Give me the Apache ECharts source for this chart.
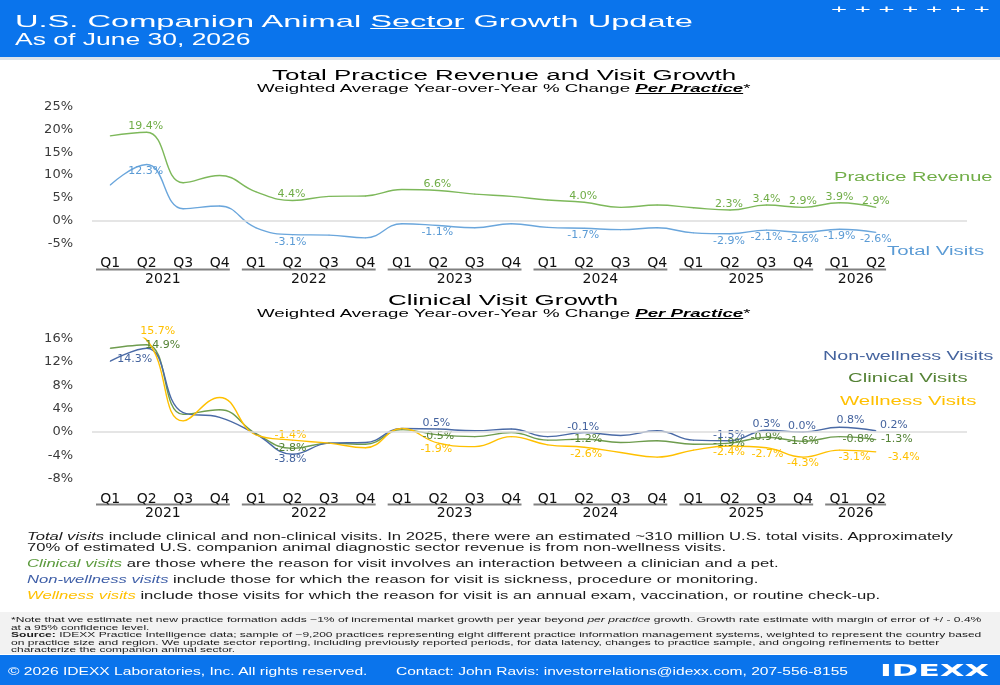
<!DOCTYPE html>
<html>
<head>
<meta charset="utf-8">
<script src="https://cdn.jsdelivr.net/npm/echarts@6/dist/echarts.min.js"></script>
<style>
  html, body { margin: 0; padding: 0; background: #fff; }
  #page { position: relative; width: 1000px; height: 685px; overflow: hidden; font-family: "Liberation Sans", Arial, sans-serif; }
  .band { position: absolute; left: 0; width: 1000px; z-index: 0; }
  #chart { position: absolute; left: 0; top: 0; width: 1000px; height: 685px; z-index: 1; }
  .t { position: absolute; white-space: nowrap; line-height: 1; z-index: 2; transform-origin: 0 50%; color: #1a1a1a; }
</style>
</head>
<body>
<div id="page">
  <div class="band" style="top:0;height:57px;background:#0a74ec"></div>
  <div class="band" style="top:57px;height:3px;background:#dde3ea"></div>
  <div class="band" style="top:612px;height:42px;background:#f2f2f2"></div>
  <div class="band" style="top:655px;height:30px;background:#0a74ec"></div>

  <div id="chart"></div>

  <!-- header -->
  <div class="t" data-x="15" data-y="21" data-w="677" style="font-size:17px;color:#fff">U.S. Companion Animal <u>Sector</u> Growth Update</div>
  <div class="t" data-x="15" data-y="39.5" data-w="235" style="font-size:16px;color:#fff">As of June 30, 2026</div>
  <div class="t" data-x="831" data-y="9.5" data-w="158" style="font-size:11px;color:#fff">+ + + + + + +</div>

  <!-- chart titles -->
  <div class="t" data-x="272" data-y="75" data-w="464" style="font-size:15.5px;color:#000">Total Practice Revenue and Visit Growth</div>
  <div class="t" data-x="257" data-y="88.5" data-w="494" style="font-size:10.5px;color:#000">Weighted Average Year-over-Year % Change <b><i><u>Per Practice</u></i></b>*</div>
  <div class="t" data-x="388" data-y="300" data-w="231" style="font-size:15.5px;color:#000">Clinical Visit Growth</div>
  <div class="t" data-x="257" data-y="313.5" data-w="494" style="font-size:10.5px;color:#000">Weighted Average Year-over-Year % Change <b><i><u>Per Practice</u></i></b>*</div>

  <!-- series names -->
  <div class="t" data-x="834" data-y="177" data-w="159" style="font-size:12.5px;color:#70ad47">Practice Revenue</div>
  <div class="t" data-x="887" data-y="251" data-w="98" style="font-size:12.5px;color:#5b9bd5">Total Visits</div>
  <div class="t" data-x="823" data-y="356" data-w="170" style="font-size:12.5px;color:#44639e">Non-wellness Visits</div>
  <div class="t" data-x="848" data-y="378" data-w="119" style="font-size:12.5px;color:#548235">Clinical Visits</div>
  <div class="t" data-x="840" data-y="401" data-w="137" style="font-size:12.5px;color:#ffc000">Wellness Visits</div>

  <!-- definitions -->
  <div class="t" data-x="27" data-y="536.5" data-w="926" style="font-size:11px"><i>Total visits</i> include clinical and non-clinical visits. In 2025, there were an estimated ~310 million U.S. total visits. Approximately</div>
  <div class="t" data-x="27" data-y="547.5" data-w="699" style="font-size:11px">70% of estimated U.S. companion animal diagnostic sector revenue is from non-wellness visits.</div>
  <div class="t" data-x="27" data-y="563" data-w="752" style="font-size:11px"><i style="color:#5b9a3c">Clinical visits</i> are those where the reason for visit involves an interaction between a clinician and a pet.</div>
  <div class="t" data-x="27" data-y="579" data-w="732" style="font-size:11px"><i style="color:#3f5fa8">Non-wellness visits</i> include those for which the reason for visit is sickness, procedure or monitoring.</div>
  <div class="t" data-x="27" data-y="595" data-w="853" style="font-size:11px"><i style="color:#ffc000">Wellness visits</i> include those visits for which the reason for visit is an annual exam, vaccination, or routine check-up.</div>

  <!-- notes -->
  <div class="t" data-x="11" data-y="620" data-w="970" style="font-size:7.5px">*Note that we estimate net new practice formation adds ~1% of incremental market growth per year beyond <i>per practice</i> growth. Growth rate estimate with margin of error of +/ - 0.4%</div>
  <div class="t" data-x="11" data-y="627.5" data-w="139" style="font-size:7.5px">at a 95% confidence level.</div>
  <div class="t" data-x="11" data-y="635" data-w="971" style="font-size:7.5px"><b>Source:</b> IDEXX Practice Intelligence data; sample of ~9,200 practices representing eight different practice information management systems, weighted to represent the country based</div>
  <div class="t" data-x="11" data-y="642.5" data-w="928" style="font-size:7.5px">on practice size and region. We update sector reporting, including previously reported periods, for data latency, changes to practice sample, and ongoing refinements to better</div>
  <div class="t" data-x="11" data-y="650" data-w="225" style="font-size:7.5px">characterize the companion animal sector.</div>

  <!-- footer -->
  <div class="t" data-x="8" data-y="671" data-w="359" style="font-size:11px;color:#fff">© 2026 IDEXX Laboratories, Inc. All rights reserved.</div>
  <div class="t" data-x="396" data-y="671" data-w="452" style="font-size:11px;color:#fff">Contact: John Ravis: investorrelations@idexx.com, 207-556-8155</div>
  <div class="t" data-x="880" data-y="671" data-w="108" style="font-size:15px;color:#fff;font-weight:900;font-family:'DejaVu Sans'">IDEXX</div>
</div>

<script>
/*########  data  ########*/
var quarters = ["Q1", "Q2", "Q3", "Q4", "Q1", "Q2", "Q3", "Q4", "Q1", "Q2", "Q3", "Q4",
                "Q1", "Q2", "Q3", "Q4", "Q1", "Q2", "Q3", "Q4", "Q1", "Q2"];
var years = ["2021", "2022", "2023", "2024", "2025", "2026"];
var quartersPerYear = [4, 4, 4, 4, 4, 2];

// top chart: total practice revenue and visit growth (%)
var practiceRevenue = [18.6, 19.4, 8.3, 9.9, 6.3, 4.4, 5.3, 5.4, 6.8, 6.6, 5.8, 5.3,
                       4.5, 4.0, 2.9, 3.4, 2.8, 2.3, 3.4, 2.9, 3.9, 2.9];
var totalVisits = [7.8, 12.3, 2.6, 3.2, -1.6, -3.1, -3.2, -3.8, -0.7, -1.1, -1.6, -0.7,
                   -1.5, -1.7, -2.0, -1.6, -2.7, -2.9, -2.1, -2.6, -1.9, -2.6];

// bottom chart: clinical visit growth (%)
var nonWellnessVisits = [12.1, 14.3, 3.3, 2.5, -0.4, -3.8, -1.9, -1.8, 0.6, 0.5, 0.2, 0.5,
                         -0.8, -0.1, -0.6, 0.2, -1.4, -1.5, 0.3, 0.0, 0.8, 0.2];
var clinicalVisits = [14.3, 14.9, 3.0, 3.8, -0.3, -2.8, -1.9, -2.1, 0.4, -0.5, -0.8, -0.1,
                      -1.4, -1.2, -1.8, -1.5, -2.1, -1.9, -0.9, -1.6, -0.8, -1.3];
var wellnessVisits = [17.6, 15.7, 1.9, 5.9, -0.5, -1.4, -1.9, -2.7, 0.6, -1.9, -2.5, -0.8,
                      -2.2, -2.6, -3.5, -4.3, -3.1, -2.4, -2.7, -4.3, -3.1, -3.4];

// points that carry a value label
var labelledPoints = [1, 5, 9, 13, 17, 18, 19, 20, 21];

/*########  label nudges (px from the point)  ########*/
var offRevenue = [[-1, -6], [-1, -6], [-1, -6], [-1, -6], [-1, -6], [0, -6], [0, -6], [0, -6], [0, -6]];
var offVisits = [[-1, 7], [-2, 7], [-1, 7], [-1, 7], [-1, 7], [0, 7], [0, 7], [0, 7], [0, 7]];
var offNonWell = [[-12, 11], [-2, 5], [-2, -6], [-1, -5], [-1, -6], [0, -6], [-1, -6], [11, -7], [18, -6]];
var offClinical = [[16, 0], [-2, 0], [0, 1], [2, 0], [-1, 0], [0, 0], [0, 0], [19, 2], [21, 0]];
var offWellness = [[11, -9], [-2, -5], [-2, 6], [2, 7], [-1, 6], [1, 6], [0, 6], [15, 7], [28, 5]];

var labelFont = "DejaVu Sans";

function buildData(values, offsets, color) {
  return values.map(function (v, i) {
    var k = labelledPoints.indexOf(i);
    if (k < 0) return v;
    return {
      value: v,
      label: {
        show: true,
        position: "inside",
        offset: offsets[k],
        color: color,
        fontFamily: labelFont,
        fontSize: 11,
        formatter: function (p) { return p.value.toFixed(1) + "%"; },
      },
    };
  });
}

function lineSeries(name, values, offsets, lineColor, textColor, axisIdx) {
  return {
    name: name,
    type: "line",
    xAxisIndex: axisIdx,
    yAxisIndex: axisIdx,
    smooth: 0.45,
    symbol: "circle",
    symbolSize: 1,
    showSymbol: true,
    itemStyle: { color: lineColor },
    lineStyle: { color: lineColor, width: 1.4 },
    label: { show: false },
    emphasis: { disabled: true },
    data: buildData(values, offsets, textColor),
  };
}

function zeroLine() {
  return {
    silent: true,
    symbol: "none",
    label: { show: false },
    lineStyle: { color: "#dcdcdc", width: 1.5, type: "solid" },
    data: [{ yAxis: 0 }],
  };
}

// two empty slots on the right leave room for the series names
var axisSlots = quarters.concat(["", ""]);

function xAxisOf(gridIdx, margin) {
  return {
    type: "category",
    gridIndex: gridIdx,
    data: axisSlots,
    boundaryGap: true,
    axisLine: { show: false },
    axisTick: { show: false },
    axisLabel: { interval: 0, margin: margin, color: "#111", fontFamily: labelFont, fontSize: 14 },
  };
}

function yAxisOf(gridIdx, min, max, step) {
  return {
    type: "value",
    gridIndex: gridIdx,
    min: min,
    max: max,
    interval: step,
    splitLine: { show: false },
    axisLine: { show: false },
    axisTick: { show: false },
    axisLabel: { formatter: "{value}%", margin: 19, color: "#3a3a3a", fontFamily: labelFont, fontSize: 13 },
  };
}

var chart = echarts.init(document.getElementById("chart"), null, { renderer: "canvas" });

var revSeries = lineSeries("Practice Revenue", practiceRevenue, offRevenue, "#7db85a", "#70ad47", 0);
revSeries.markLine = zeroLine();
var nonWellSeries = lineSeries("Non-wellness Visits", nonWellnessVisits, offNonWell, "#4a6aa6", "#44639e", 1);
nonWellSeries.markLine = zeroLine();

var option = {
  animation: false,
  backgroundColor: "transparent",
  grid: [
    { left: 92, right: 33, top: 106.7, height: 136.6 },
    { left: 92, right: 33, top: 338.3, height: 140.5 },
  ],
  xAxis: [xAxisOf(0, 13), xAxisOf(1, 14)],
  yAxis: [yAxisOf(0, -5, 25, 5), yAxisOf(1, -8, 16, 4)],
  series: [
    revSeries,
    lineSeries("Total Visits", totalVisits, offVisits, "#6aa6dc", "#5b9bd5", 0),
    lineSeries("Clinical Visits", clinicalVisits, offClinical, "#6e9c4e", "#548235", 1),
    nonWellSeries,
    lineSeries("Wellness Visits", wellnessVisits, offWellness, "#ffc000", "#ffc000", 1),
  ],
};
chart.setOption(option);

// year underlines and labels under each group of quarters
function yearMarks(axisIdx, lineY, textY) {
  var out = [];
  var start = 0;
  var x0 = chart.convertToPixel({ xAxisIndex: axisIdx }, 0);
  var half = (chart.convertToPixel({ xAxisIndex: axisIdx }, 1) - x0) / 2;
  years.forEach(function (yr, k) {
    var first = start;
    var last = start + quartersPerYear[k] - 1;
    var a = chart.convertToPixel({ xAxisIndex: axisIdx }, first) - half + 4;
    var b = chart.convertToPixel({ xAxisIndex: axisIdx }, last) + half - 8;
    out.push({
      type: "line",
      silent: true,
      shape: { x1: a, y1: lineY, x2: b, y2: lineY },
      style: { stroke: "#808080", lineWidth: 2 },
    });
    out.push({
      type: "text",
      silent: true,
      x: (a + b) / 2,
      y: textY,
      style: {
        text: yr,
        fill: "#111",
        font: "14px 'DejaVu Sans'",
        align: "center",
        verticalAlign: "middle",
        textAlign: "center",
        textVerticalAlign: "middle",
      },
    });
    start += quartersPerYear[k];
  });
  return out;
}

chart.setOption({ graphic: yearMarks(0, 269.5, 279.5).concat(yearMarks(1, 504.5, 513.5)) });

// place each text line and stretch it to the width it has in the reference
function fitTexts() {
  var list = document.querySelectorAll(".t");
  for (var i = 0; i < list.length; i++) {
    var el = list[i];
    el.style.transform = "none";
    var w = el.offsetWidth;
    var h = el.offsetHeight;
    el.style.left = el.getAttribute("data-x") + "px";
    el.style.top = (parseFloat(el.getAttribute("data-y")) - h / 2) + "px";
    el.style.transform = "scaleX(" + (parseFloat(el.getAttribute("data-w")) / w) + ")";
  }
}
fitTexts();
if (document.fonts && document.fonts.ready) document.fonts.ready.then(fitTexts);
</script>
</body>
</html>
